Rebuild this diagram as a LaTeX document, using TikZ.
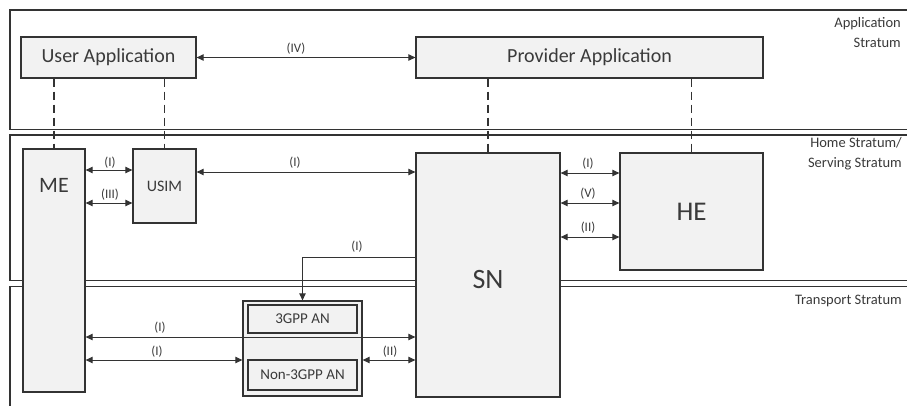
\documentclass[tikz,border=0pt]{standalone}
\usepackage{fontspec}
\setmainfont{Carlito}
\usetikzlibrary{arrows.meta}
\definecolor{ln}{HTML}{333333}
\definecolor{bx}{HTML}{F2F2F2}
\definecolor{tx}{HTML}{3A3A3A}
\begin{document}
\begin{tikzpicture}[x=1pt,y=-1pt,
  stratum/.style={draw=ln,line width=1.5pt},
  entity/.style={draw=ln,fill=bx,line width=1.3pt,inner sep=0pt,text=tx},
  link/.style={draw=ln,line width=1pt,{Triangle[length=7pt,width=6.5pt]}-{Triangle[length=7pt,width=6.5pt]}},
  onearrow/.style={draw=ln,line width=1pt,-{Triangle[length=7pt,width=6.5pt]}},
  lbl/.style={font=\fontsize{13}{13}\selectfont,text=tx,inner sep=0pt},
  strat/.style={font=\fontsize{14.5}{20}\selectfont,text=tx,inner sep=0pt,align=right,anchor=east},
  dashln/.style={draw=ln,line width=1.1pt,dash pattern=on 8pt off 5pt},
  bigtxt/.style={text=tx,inner sep=0pt}
]
\useasboundingbox (0,0) rectangle (907,405);

% strata
\draw[stratum] (10,10) rectangle (920,129.5);
\draw[stratum] (10,135) rectangle (920,280.5);
\draw[stratum] (10,286.5) rectangle (920,420);
\node[strat] (lapp) at (901,33) {Application\\Stratum};
\node[strat] (lhome) at (902,154) {Home Stratum/\\Serving Stratum};
\node[strat] (ltrans) at (902,300.5) {Transport Stratum};

% coordinates for levels
\coordinate (y170) at (0,170);
\coordinate (y172) at (0,172);
\coordinate (y173) at (0,173);
\coordinate (y203) at (0,203);
\coordinate (y237) at (0,237);
\coordinate (y257) at (0,257);
\coordinate (y337) at (0,337);
\coordinate (y360) at (0,360);

% application boxes
\node[entity,minimum width=175pt,minimum height=41pt,font=\fontsize{20}{20}\selectfont] (ua) at (108.5,57.5) {User Application};
\node[entity,minimum width=347pt,minimum height=41pt,font=\fontsize{20}{20}\selectfont] (pa) at (589.5,57.5) {Provider Application};

% dashed links
\coordinate (meN) at (54,149);
\coordinate (usimN) at (164.5,149);
\coordinate (snN) at (488,153);
\coordinate (heN) at (691.5,153);
\draw[dashln] (meN |- ua.south) -- (meN);
\draw[dashln] (usimN |- ua.south) -- (usimN);
\draw[dashln] (snN |- pa.south) -- (snN);
\draw[dashln] (heN |- pa.south) -- (heN);

\node[entity,minimum width=62pt,minimum height=243pt] (me) at (54,270.5) {};
\node[bigtxt,font=\fontsize{22}{22}\selectfont] (metxt) at (54,185) {ME};
\node[entity,minimum width=63pt,minimum height=74pt,font=\fontsize{16}{16}\selectfont] (usim) at (164.5,186) {USIM};
\node[entity,minimum width=144pt,minimum height=244pt] (sn) at (488,275) {};
\node[bigtxt,font=\fontsize{28}{28}\selectfont] (sntxt) at (488,280) {SN};
\node[entity,minimum width=143pt,minimum height=117pt,font=\fontsize{27}{27}\selectfont] (he) at (691.5,211.5) {HE};

\node[entity,minimum width=119pt,minimum height=95pt] (an) at (302.5,348.5) {};
\node[entity,minimum width=109pt,minimum height=28pt,font=\fontsize{15}{15}\selectfont] (an3) at (302.5,319) {3GPP AN};
\node[entity,minimum width=109pt,minimum height=30pt,font=\fontsize{15}{15}\selectfont] (ann) at (302.5,375) {Non-3GPP AN};

% connectors
\draw[link] (ua.east) -- (pa.west);
\node[lbl] (l4) at (296,49) {(IV)};

\draw[link] (me.east |- y170) -- (usim.west |- y170);
\node[lbl] (l1a) at (110,163) {(I)};
\draw[link] (me.east |- y203) -- (usim.west |- y203);
\node[lbl] (l3) at (110,195) {(III)};

\draw[link] (usim.east |- y172) -- (sn.west |- y172);
\node[lbl] (l1b) at (295,163) {(I)};

\draw[link] (sn.east |- y173) -- (he.west |- y173);
\node[lbl] (l1c) at (588,164) {(I)};
\draw[link] (sn.east |- y203) -- (he.west |- y203);
\node[lbl] (l5) at (588,194) {(V)};
\draw[link] (sn.east |- y237) -- (he.west |- y237);
\node[lbl] (l2a) at (588,228) {(II)};

\draw[onearrow] (sn.west |- y257) -| (an.north);
\node[lbl] (l1d) at (357,247) {(I)};

\draw[link] (me.east |- y337) -- (sn.west |- y337);
\node[lbl] (l1e) at (160,328) {(I)};
\draw[link] (me.east |- y360) -- (an.west |- y360);
\node[lbl] (l1f) at (157,352) {(I)};
\draw[link] (an.east |- y360) -- (sn.west |- y360);
\node[lbl] (l2b) at (390,352) {(II)};
\end{tikzpicture}
\end{document}
